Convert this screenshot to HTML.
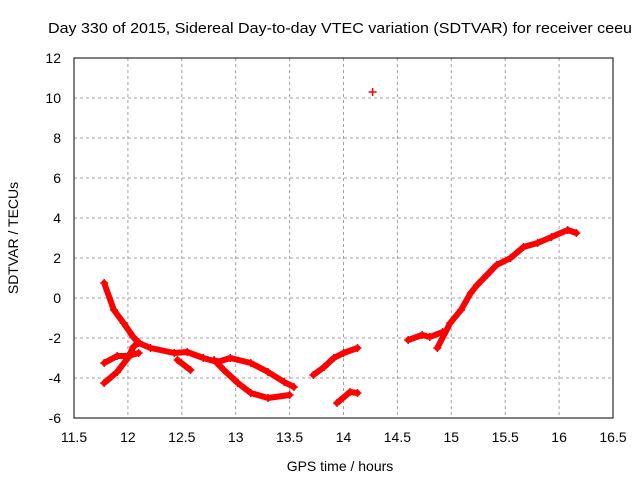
<!DOCTYPE html>
<html><head><meta charset="utf-8"><style>
body{margin:0;background:#fff;width:640px;height:480px;overflow:hidden}
svg text{font-family:"Liberation Sans",sans-serif;font-size:13px;fill:#000}
</style></head><body>
<svg id="chart" width="640" height="480">
<text x="48" y="33" textLength="584" lengthAdjust="spacingAndGlyphs" style="font-size:15px">Day 330 of 2015, Sidereal Day-to-day VTEC variation (SDTVAR) for receiver ceeu</text>
<g id="grid"></g>
<g id="ticks"></g>
<rect x="74" y="58" width="539" height="360" fill="none" stroke="#000" stroke-width="1"/>
<g id="marks"></g>
<text x="340" y="471" text-anchor="middle" style="font-size:14px">GPS time / hours</text>
<text transform="translate(18,238) rotate(-90)" text-anchor="middle" style="font-size:14px">SDTVAR / TECUs</text>
</svg>
<script>
const xTicks=[11.5,12,12.5,13,13.5,14,14.5,15,15.5,16,16.5];
const xTickLabels=["11.5","12","12.5","13","13.5","14","14.5","15","15.5","16","16.5"];
const yTicks=[-6,-4,-2,0,2,4,6,8,10,12];
const yTickLabels=["-6","-4","-2","0","2","4","6","8","10","12"];
const segA_x=[11.78,11.87,11.96,12.05,12.1,12.21,12.43,12.55,12.7,12.83];
const segA_y=[0.75,-0.6,-1.25,-1.95,-2.25,-2.5,-2.75,-2.7,-3.0,-3.2];
const segB_x=[11.78,11.9,12.0,12.05,12.1];
const segB_y=[-4.25,-3.7,-3.0,-2.45,-2.2];
const segC_x=[11.78,11.9,12.0,12.1];
const segC_y=[-3.25,-2.9,-2.9,-2.75];
const segD_x=[12.83,12.95,13.14,13.3,13.45,13.54];
const segD_y=[-3.2,-3.0,-3.25,-3.7,-4.2,-4.45];
const segE_x=[12.8,12.89,13.02,13.14,13.3,13.5];
const segE_y=[-3.1,-3.6,-4.25,-4.75,-5.0,-4.85];
const segF_x=[12.46,12.58];
const segF_y=[-3.1,-3.6];
const segG_x=[13.72,13.82,13.91,14.0,14.13];
const segG_y=[-3.85,-3.45,-3.0,-2.75,-2.5];
const segH_x=[13.94,14.06,14.13];
const segH_y=[-5.25,-4.7,-4.75];
const segI_x=[14.27];
const segI_y=[10.3];
const segJ_x=[14.6,14.73,14.8,14.92];
const segJ_y=[-2.1,-1.85,-1.95,-1.7];
const segK_x=[14.87,14.99,15.09,15.18,15.24,15.33,15.42,15.55,15.67,15.8,15.93,16.08,16.16];
const segK_y=[-2.5,-1.25,-0.6,0.25,0.65,1.15,1.65,2.0,2.55,2.75,3.05,3.4,3.25];
const segments=[[segA_x,segA_y],[segB_x,segB_y],[segC_x,segC_y],[segD_x,segD_y],[segE_x,segE_y],[segF_x,segF_y],[segG_x,segG_y],[segH_x,segH_y],[segI_x,segI_y],[segJ_x,segJ_y],[segK_x,segK_y]];
const NS='http://www.w3.org/2000/svg';
const X=v=>74+(v-11.5)*107.8;
const Y=v=>418-(v+6)*20;
function mk(t,a,p){const e=document.createElementNS(NS,t);for(const k in a)e.setAttribute(k,a[k]);p.appendChild(e);return e;}
const grid=document.getElementById('grid'),ticks=document.getElementById('ticks'),marks=document.getElementById('marks');
xTicks.forEach((v,i)=>{const x=X(v);
 if(i>0&&i<xTicks.length-1){const g=mk('line',{x1:x,x2:x,y1:58,y2:418,stroke:'#a0a0a0','stroke-dasharray':'3,3'},grid);
 
 }
 const t=mk('text',{x:x,y:442,'text-anchor':'middle',style:'font-size:14px'},ticks);t.textContent=xTickLabels[i];
 
 });
yTicks.forEach((v,i)=>{const y=Y(v);
 if(i>0&&i<yTicks.length-1){const g=mk('line',{x1:74,x2:613,y1:y,y2:y,stroke:'#a0a0a0','stroke-dasharray':'3,3'},grid);
 
 }
 const t=mk('text',{x:61,y:y+5,'text-anchor':'end',style:'font-size:14px'},ticks);t.textContent=yTickLabels[i];
 
 });
segments.forEach(([xs,ys])=>{
 if(xs.length>1){const pl=mk('polyline',{points:xs.map((x,i)=>X(x)+','+Y(ys[i])).join(' '),fill:'none',stroke:'#f00','stroke-width':6,'stroke-linejoin':'round','stroke-linecap':'round'},marks);
 
 }
 xs.forEach((x,i)=>{const px=X(x),py=Y(ys[i]);
  const p=mk('path',{d:`M${px-4},${py}H${px+4}M${px},${py-4}V${py+4}`,stroke:'#f00','stroke-width':1.5},marks);
  
  });
});
</script>
</body></html>
